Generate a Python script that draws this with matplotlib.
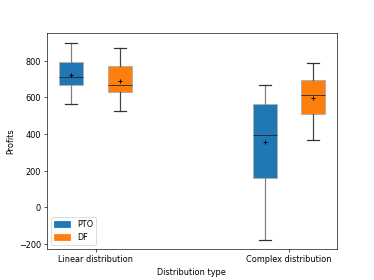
import matplotlib
matplotlib.use("Agg")
import matplotlib.pyplot as plt
import matplotlib.patches as mpatches

categories = ["Linear distribution", "Complex distribution"]
series = ["PTO", "DF"]
colors = ["#1f77b4", "#ff7f0e"]

# stats per series: [whislo, q1, med, mean, q3, whishi] per category
pto_whislo = [562, -179]
pto_q1 = [667, 161]
pto_med = [710, 392]
pto_mean = [721, 354]
pto_q3 = [793, 564]
pto_whishi = [899, 667]

df_whislo = [524, 366]
df_q1 = [632, 507]
df_med = [667, 612]
df_mean = [689, 595]
df_q3 = [774, 694]
df_whishi = [873, 791]

def make_stats(lo, q1, med, mean, q3, hi):
    return [dict(whislo=lo[i], q1=q1[i], med=med[i], mean=mean[i], q3=q3[i],
                 whishi=hi[i], fliers=[]) for i in range(len(lo))]

fig, ax = plt.subplots(figsize=(6.4, 4.8), dpi=374/6.4)

groups = [
    (make_stats(pto_whislo, pto_q1, pto_med, pto_mean, pto_q3, pto_whishi), -0.125, colors[0], "#7f7f7f"),
    (make_stats(df_whislo, df_q1, df_med, df_mean, df_q3, df_whishi), 0.125, colors[1], "#444444"),
]
for stats, off, col, wcol in groups:
    pos = [i + 1 + off for i in range(len(categories))]
    ax.bxp(stats, positions=pos, widths=0.125, patch_artist=True, showmeans=True,
           manage_ticks=False,
           boxprops=dict(facecolor=col, edgecolor="#b0b0b0", linewidth=1.2),
           medianprops=dict(color="#222222", linewidth=1.0),
           whiskerprops=dict(color=wcol, linewidth=1.5),
           capprops=dict(color="#333333", linewidth=1.5),
           meanprops=dict(marker="+", markeredgecolor="black", markersize=6,
                          markeredgewidth=1.2))

ax.set_xticks([1, 2])
ax.set_xticklabels(categories)
ax.set_xlim(0.7475, 2.2475)
ax.set_ylim(-230, 952)
ax.set_xlabel("Distribution type")
ax.set_ylabel("Profits")
handles = [mpatches.Patch(color=c, label=s) for c, s in zip(colors, series)]
ax.legend(handles=handles, loc="lower left")
fig.savefig("out.png")
